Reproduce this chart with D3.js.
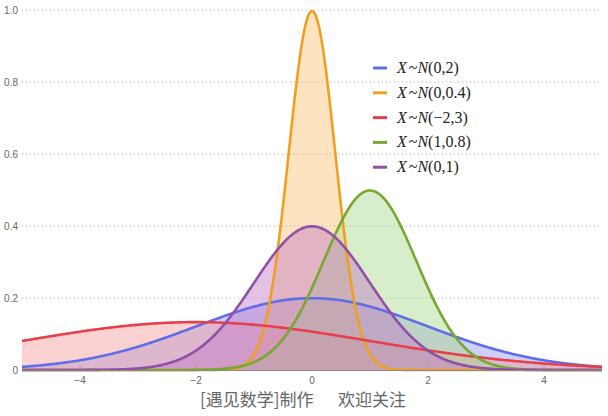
<!DOCTYPE html>
<html>
<head>
<meta charset="utf-8">
<script src="https://cdn.jsdelivr.net/npm/d3@7"></script>
<style>
body { margin: 0; background: #fff; }
svg { display: block; }
</style>
</head>
<body>
<div id="chart"></div>
<script>
var labels = ["(0,2)", "(0,0.4)", "(\u22122,3)", "(1,0.8)", "(0,1)"];
var means = [0, 0, -2, 1, 0];
var sds = [2, 0.4, 3, 0.8, 1];
var colors = ["#5f6ee8", "#f0a020", "#e8404a", "#78a830", "#9050a8"];
var fillColors = ["#8f96f0", "#fbc070", "#f29a9a", "#a8d888", "#c078c8"];
var xTicks = [-4, -2, 0, 2, 4];
var yTicks = [0, 0.2, 0.4, 0.6, 0.8, 1.0];
var titleParts = ["[遇见数学]制作", "欢迎关注"];

var width = 608, height = 416;
var x = d3.scaleLinear().domain([-5, 5]).range([22, 602]);
var y = d3.scaleLinear().domain([0, 1]).range([370, 10]);

var svg = d3.select("#chart").append("svg")
    .attr("width", width)
    .attr("height", height);

function pdf(m, s, v) {
    return Math.exp(-0.5 * Math.pow((v - m) / s, 2)) / (s * Math.sqrt(2 * Math.PI));
}

var xs = d3.range(-5, 5.0001, 0.02);
var series = means.map(function (m, i) {
    return xs.map(function (v) { return [v, pdf(m, sds[i], v)]; });
});

var area = d3.area()
    .x(function (d) { return x(d[0]); })
    .y0(y(0))
    .y1(function (d) { return y(d[1]); });
var line = d3.line()
    .x(function (d) { return x(d[0]); })
    .y(function (d) { return y(d[1]); });

// x tick marks (under fills)
svg.append("g").selectAll("line")
    .data(xTicks)
    .enter().append("line")
    .attr("x1", function (d) { return x(d); })
    .attr("x2", function (d) { return x(d); })
    .attr("y1", y(0) - 5)
    .attr("y2", y(0))
    .attr("stroke", "#888")
    .attr("stroke-width", 1);

svg.append("g").selectAll("path")
    .data(series)
    .enter().append("path")
    .attr("d", area)
    .attr("fill", function (d, i) { return fillColors[i]; })
    .attr("fill-opacity", 0.45);

// grid
svg.append("g").selectAll("line")
    .data(yTicks.slice(1))
    .enter().append("line")
    .attr("x1", x(-5))
    .attr("x2", x(5))
    .attr("y1", function (d) { return y(d); })
    .attr("y2", function (d) { return y(d); })
    .attr("stroke", "#aaa")
    .attr("stroke-width", 1)
    .attr("stroke-dasharray", "1,3");

svg.append("g").selectAll("path")
    .data(series)
    .enter().append("path")
    .attr("d", line)
    .attr("fill", "none")
    .attr("stroke", function (d, i) { return colors[i]; })
    .attr("stroke-width", 2.6)
    .attr("stroke-linejoin", "round");

// axis line
svg.append("line")
    .attr("x1", x(-5)).attr("x2", x(5))
    .attr("y1", y(0) + 0.5).attr("y2", y(0) + 0.5)
    .attr("stroke", "#888");

svg.append("g").selectAll("text")
    .data(xTicks)
    .enter().append("text")
    .attr("x", function (d) { return x(d); })
    .attr("y", 384)
    .attr("text-anchor", "middle")
    .attr("font-family", "Liberation Sans, Arial, sans-serif")
    .attr("font-size", 10)
    .attr("fill", "#666")
    .text(function (d) { return d < 0 ? "\u2212" + (-d) : d; });

svg.append("g").selectAll("text")
    .data(yTicks)
    .enter().append("text")
    .attr("x", 18)
    .attr("y", function (d) { return y(d) + 3.5; })
    .attr("text-anchor", "end")
    .attr("font-family", "Liberation Sans, Arial, sans-serif")
    .attr("font-size", 10)
    .attr("fill", "#666")
    .text(function (d) { return d === 0 ? "0" : d.toFixed(1); });

// legend
var leg = svg.append("g").selectAll("g")
    .data(labels)
    .enter().append("g")
    .attr("transform", function (d, i) { return "translate(373," + (68 + i * 24.8) + ")"; });
leg.append("line")
    .attr("x1", 0).attr("x2", 14)
    .attr("stroke", function (d, i) { return colors[i]; })
    .attr("stroke-width", 3);
var lt = leg.append("text")
    .attr("x", 24)
    .attr("y", 5)
    .attr("font-family", "Liberation Serif, Times New Roman, serif")
    .attr("font-size", 16)
    .attr("fill", "#222");
lt.append("tspan").attr("font-style", "italic").text("X");
lt.append("tspan").attr("dx", 2).text("~");
lt.append("tspan").attr("font-style", "italic").text("N");
lt.append("tspan").text(function (d) { return d; });

// caption
svg.append("g").selectAll("text")
    .data(titleParts)
    .enter().append("text")
    .attr("x", function (d, i) { return i === 0 ? 200 : 338; })
    .attr("y", 406)
    .attr("font-family", "Noto Sans CJK SC, sans-serif")
    .attr("font-size", 17)
    .attr("fill", "#666")
    .text(function (d) { return d; });
</script>
</body>
</html>
